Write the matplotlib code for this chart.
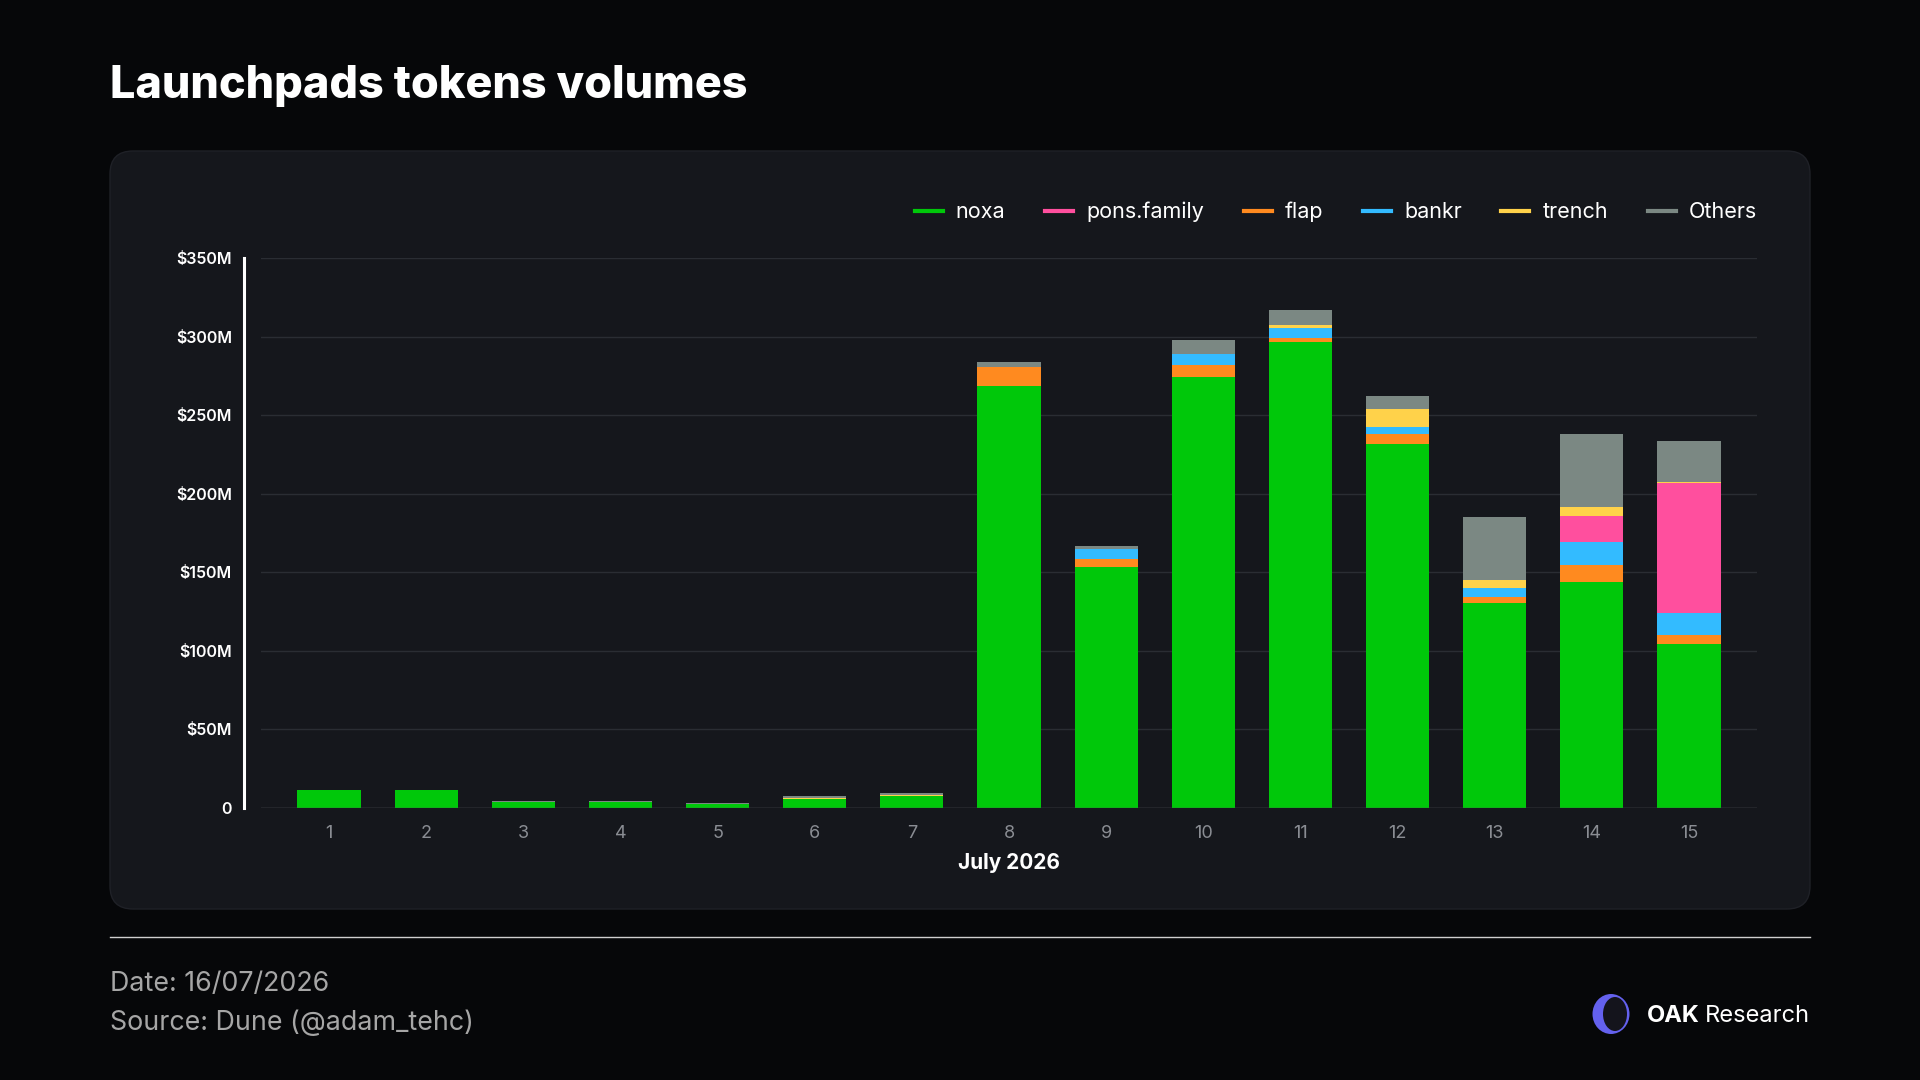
import matplotlib
matplotlib.use("Agg")
import matplotlib.pyplot as plt
import numpy as np
from matplotlib.lines import Line2D
from matplotlib.patches import FancyBboxPatch, Ellipse

plt.rcParams['font.family'] = ['Inter', 'DejaVu Sans']

# daily volumes, $M
days = [str(d) for d in range(1, 16)]
noxa = [11.2, 11.2, 3.6, 3.6, 2.6, 5.9, 7.6, 268.6, 153.6, 274.2, 296.4, 231.4, 130.3, 143.9, 104.4]
flap = [0, 0, 0, 0, 0, 0, 0, 12.1, 4.7, 7.4, 3.0, 6.6, 4.2, 11.0, 5.7]
bankr = [0, 0, 0, 0, 0, 0, 0, 0, 6.8, 7.2, 5.9, 4.7, 5.7, 14.2, 13.8]
pons_family = [0, 0, 0, 0, 0, 0, 0, 0, 0, 0, 0, 0, 0, 16.7, 83.1]
trench = [0, 0, 0, 0, 0, 0.6, 0.6, 0, 0, 0, 2.3, 11.2, 4.9, 5.9, 0.4]
others = [0.5, 0.5, 0.6, 0.6, 0.8, 0.9, 1.1, 3.0, 1.9, 9.3, 9.1, 8.6, 40.3, 46.6, 26.3]

y_ticks = [0, 50, 100, 150, 200, 250, 300, 350]
y_tick_labels = ['0', '$50M', '$100M', '$150M', '$200M', '$250M', '$300M', '$350M']

COLORS = {
    'noxa': '#00c80a',
    'pons.family': '#ff4f9e',
    'flap': '#ff8a1f',
    'bankr': '#33bbff',
    'trench': '#ffd24a',
    'Others': '#7b8883',
}
legend_order = ['noxa', 'pons.family', 'flap', 'bankr', 'trench', 'Others']
stack = [('noxa', noxa), ('flap', flap), ('bankr', bankr),
         ('pons.family', pons_family), ('trench', trench), ('Others', others)]

W, H = 1920, 1080
fig = plt.figure(figsize=(W / 100, H / 100), dpi=100, facecolor='#060709')

# card behind the chart
card = FancyBboxPatch((110 / W, 1 - 909 / H), 1700 / W, 758 / H,
                      boxstyle="round,pad=0,rounding_size=0.012", mutation_aspect=W / H,
                      transform=fig.transFigure, facecolor='#15171c', edgecolor='#1f2127',
                      linewidth=1, zorder=-5)
fig.patches.append(card)

ax = fig.add_axes([261 / W, 1 - 808 / H, 1496 / W, 550 / H])
ax.set_facecolor('none')
ax.set_zorder(2)

x = np.arange(1, 16)
bottom = np.zeros(len(x))
for name, values in stack:
    vals = np.array(values, dtype=float)
    ax.bar(x, vals, 0.65, bottom=bottom, color=COLORS[name], linewidth=0, zorder=3)
    bottom += vals

ax.set_xlim(0.3, 15.7)
ax.set_ylim(0, 350)
ax.set_yticks(y_ticks)
ax.set_yticklabels(y_tick_labels)
ax.set_xticks(x)
ax.set_xticklabels(days)

ax.grid(axis='y', color='#2a2d33', linewidth=1, zorder=0)
ax.axhline(0, color='#4d5057', linewidth=1, zorder=4)

for side in ['top', 'right', 'bottom']:
    ax.spines[side].set_visible(False)
ax.spines['left'].set_position(('outward', 12))
ax.spines['left'].set_color('white')
ax.spines['left'].set_linewidth(2.2)

ax.tick_params(axis='y', length=0, pad=9, labelsize=11.5, labelcolor='white')
ax.tick_params(axis='x', length=0, pad=12.5, labelsize=13, labelcolor='#8a8d93')
for lbl in ax.get_yticklabels():
    lbl.set_fontweight('semibold')

ax.set_xlabel('July 2026', color='white', fontsize=15, fontweight='bold', labelpad=8)

handles = [Line2D([0], [0], color=COLORS[n], lw=3) for n in legend_order]
leg = ax.legend(handles, legend_order, loc='center right', bbox_to_anchor=(1.0, 1 + 46 / 550),
                ncol=6, frameon=False, fontsize=15.5, handlelength=1.3, handletextpad=0.6,
                columnspacing=1.85, borderaxespad=0, borderpad=0)
for t in leg.get_texts():
    t.set_color('white')

# title and footer
fig.text(110 / W, 1 - 86 / H, 'Launchpads tokens volumes', color='white', fontsize=32.4,
         fontweight='heavy', va='center', ha='left')
fig.add_artist(Line2D([110 / W, 1810 / W], [1 - 937 / H, 1 - 937 / H], color='#cfcfcf',
                      linewidth=1, transform=fig.transFigure))
fig.text(110 / W, 1 - 984 / H, 'Date: 16/07/2026', color='#a6a6a6', fontsize=19.3, va='center')
fig.text(110 / W, 1 - 1023 / H, 'Source: Dune (@adam_tehc)', color='#a6a6a6', fontsize=19.3, va='center')

# logo
fig.patches.append(Ellipse((1611 / W, 1 - 1014 / H), 37 / W, 40 / H, facecolor='#6461ee',
                           transform=fig.transFigure))
fig.patches.append(Ellipse((1615 / W, 1 - 1014 / H), 24 / W, 34 / H, facecolor='#14141c',
                           transform=fig.transFigure))
fig.text(1647 / W, 1 - 1016 / H, 'OAK', color='white', fontsize=17, fontweight='bold',
         va='center', ha='left')
fig.text(1810 / W, 1 - 1016 / H, 'Research', color='white', fontsize=17, va='center', ha='right')

fig.savefig('out.png', dpi=100, facecolor=fig.get_facecolor())
